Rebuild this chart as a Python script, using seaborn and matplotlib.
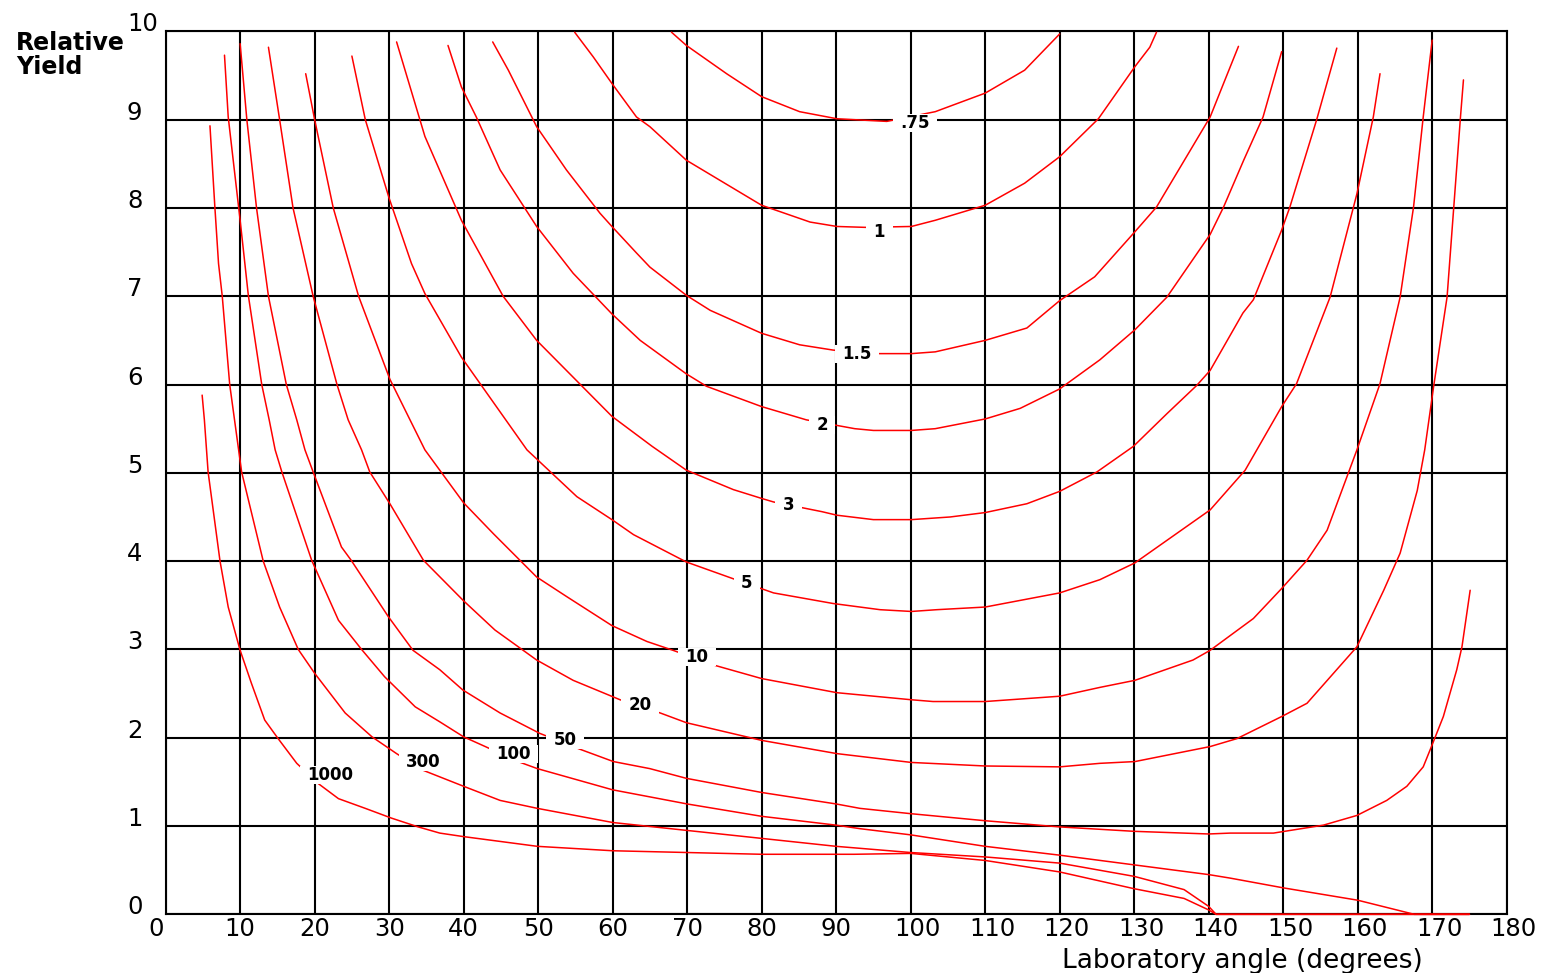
import numpy as np
import pandas as pd
import matplotlib
matplotlib.use("Agg")
import matplotlib.pyplot as plt
import seaborn as sns
from matplotlib.path import Path
from matplotlib.transforms import ScaledTranslation

# ---------------- data ----------------
X_TICKS = list(range(0, 181, 10))
Y_TICKS = list(range(0, 11))

ANGLE_075 = [67.9, 69.9, 75.3, 80, 85.1, 90.1, 96.8, 103.3, 110, 115.3, 120]
YIELD_075 = [9.99, 9.84, 9.52, 9.26, 9.09, 9.01, 8.98, 9.09, 9.30, 9.56, 9.97]

ANGLE_1 = [54.9, 57.4, 59.9, 63.2, 65, 69.9, 80, 86.5, 90.1, 93.9, 100.1, 103.3, 110,
           115.3, 120, 125.2, 130.1, 132.1, 133]
YIELD_1 = [9.99, 9.71, 9.41, 9.03, 8.92, 8.54, 8.03, 7.84, 7.79, 7.78, 7.79, 7.86, 8.03,
           8.28, 8.58, 9.01, 9.60, 9.82, 9.99]

ANGLE_15 = [43.9, 46, 49.8, 53.8, 58.3, 59.9, 63.2, 65, 69.9, 73.1, 80, 85.1, 89.6, 95.7,
            100.1, 103.3, 110, 115.6, 120, 124.7, 130.1, 133, 140.2, 142, 144]
YIELD_15 = [9.88, 9.56, 8.92, 8.43, 7.94, 7.79, 7.49, 7.33, 7.01, 6.84, 6.58, 6.45, 6.39, 6.35,
            6.35, 6.37, 6.50, 6.64, 6.95, 7.22, 7.73, 8.01, 9.03, 9.41, 9.83]

ANGLE_2 = [37.9, 39.7, 41.7, 44.9, 49.8, 54.7, 59.9, 63.7, 69.9, 72.6, 80, 86, 92.5, 95,
           100.1, 103.3, 110, 114.7, 120, 125.4, 130.1, 134.4, 140.2, 142, 144.7, 147.3, 149.8]
YIELD_2 = [9.84, 9.37, 9.03, 8.43, 7.79, 7.26, 6.80, 6.50, 6.12, 5.98, 5.75, 5.60, 5.50, 5.48,
           5.48, 5.50, 5.61, 5.73, 5.95, 6.28, 6.62, 6.99, 7.70, 8.01, 8.54, 9.03, 9.77]

ANGLE_3 = [31, 34.8, 39.7, 45.3, 49.8, 59.9, 65.3, 69.9, 76.2, 80, 81.6, 88.1, 90.1,
           95, 100.1, 105.3, 110, 115.6, 120, 125, 129.9, 134.4, 138.4, 140.2, 144.6, 146,
           149.8, 150.9, 154.5, 157.2]
YIELD_3 = [9.88, 8.81, 7.86, 7.00, 6.50, 5.64, 5.30, 5.03, 4.81, 4.71, 4.67, 4.56,
           4.52, 4.47, 4.47, 4.50, 4.55, 4.65, 4.79, 5.01, 5.30, 5.67, 5.99, 6.16, 6.81, 6.96,
           7.75, 8.01, 9.00, 9.81]

ANGLE_5 = [25, 26.8, 30, 33, 34.8, 39.7, 48.5, 55.2, 59.9, 62.8, 69.9, 76.2, 81.6, 89.6, 95.9,
           100.1, 103.5, 110, 120, 125.4, 130.1, 140.2, 144.9, 149.8, 151.8, 156.3, 159.9,
           162.1, 163]
YIELD_5 = [9.72, 9.00, 8.11, 7.37, 7.03, 6.31, 5.26, 4.73, 4.47, 4.30, 3.99, 3.80, 3.64, 3.52,
           3.45, 3.43, 3.45, 3.48, 3.64, 3.79, 3.98, 4.58, 5.03, 5.75, 6.01, 6.99, 8.16,
           9.03, 9.52]

ANGLE_10 = [18.8, 20, 22.5, 25.9, 30.1, 32.8, 34.8, 40, 44, 49.8, 53.8, 59.9, 64.6, 68.1,
            73.7, 80, 90.1, 100.1, 103, 110, 120, 125.4, 130.1, 137.9, 140.2, 146, 149.8,
            153.2, 155.9, 159.9, 163, 165.7, 167.5, 168.8, 170]
YIELD_10 = [9.52, 9.00, 8.00, 7.00, 6.06, 5.60, 5.26, 4.66, 4.31, 3.82, 3.60, 3.27, 3.09,
            2.99, 2.82, 2.67, 2.51, 2.43, 2.41, 2.41, 2.47, 2.57, 2.65, 2.88, 2.99, 3.35, 3.69,
            4.01, 4.35, 5.26, 6.01, 6.99, 8.01, 9.03, 9.90]

ANGLE_20 = [13.8, 15.3, 17.1, 19.8, 23, 24.5, 26.3, 27.4, 30.1, 34.6, 40, 44.2, 49.8, 54.7,
            61, 66.4, 69.9, 80, 90.1, 100.1, 110, 120, 125.4, 130.1, 140.2, 143.8, 149.8,
            153.2, 159.9, 163.5, 165.7, 168, 169, 170.2, 172, 172.9, 173.8, 174.2]
YIELD_20 = [9.82, 9.00, 8.00, 7.00, 6.00, 5.60, 5.26, 5.01, 4.65, 4.01, 3.55, 3.22, 2.88, 2.65,
            2.43, 2.28, 2.17, 1.97, 1.82, 1.72, 1.68, 1.67, 1.71, 1.73, 1.90, 1.99, 2.24,
            2.39, 3.03, 3.67, 4.09, 4.80, 5.26, 5.98, 6.99, 8.01, 9.03, 9.45]

ANGLE_50 = [10, 10.9, 12.2, 13.8, 16.2, 17.6, 18.7, 19.8, 23.6, 24.9, 29.9, 33.2, 36.8, 39.9,
            44.9, 50.2, 55.6, 60.1, 65, 69.9, 80, 90, 93.2, 100, 110, 120, 130, 140, 142.9,
            148.7, 155.4, 159.9, 163.9, 166.6, 168.8, 170, 171.5, 173.3, 174, 175.1]
YIELD_50 = [9.86, 9.00, 8.00, 7.00, 6.00, 5.60, 5.26, 5.01, 4.16, 4.01, 3.37, 2.99, 2.77, 2.54,
            2.28, 2.05, 1.87, 1.73, 1.65, 1.54, 1.38, 1.25, 1.20, 1.14, 1.06, 0.99, 0.94,
            0.91, 0.92, 0.92, 1.01, 1.12, 1.29, 1.45, 1.67, 1.92, 2.24, 2.77, 3.03, 3.67]

ANGLE_100 = [7.9, 8.4, 10, 11.1, 12.9, 13.9, 14.7, 15.6, 19.6, 23.2, 26.3, 29.4, 33.5, 36.8,
             40, 42.9, 47.3, 49.9, 60, 70, 80, 90, 93.2, 100, 110, 120, 130, 140, 142.9, 150,
             160, 167.6, 175]
YIELD_100 = [9.73, 9.03, 7.86, 7.01, 6.00, 5.60, 5.26, 5.01, 4.01, 3.33, 3.00, 2.69, 2.35, 2.18,
             2.01, 1.90, 1.73, 1.65, 1.41, 1.25, 1.11, 1.01, 0.97, 0.90, 0.77, 0.67, 0.56,
             0.45, 0.41, 0.30, 0.16, 0.0, 0.0]

ANGLE_300 = [5.95, 6.6, 7.1, 7.6, 8.6, 10.2, 13.1, 15.3, 17.8, 20, 24.1, 27.7, 31, 34.6,
             37.9, 40, 44.9, 49.9, 60, 70, 80, 90, 100, 110, 120, 130, 136.7, 140, 141, 175]
YIELD_300 = [8.93, 8.02, 7.37, 7.00, 6.00, 5.01, 4.00, 3.48, 3.00, 2.73, 2.28, 2.01, 1.82,
             1.63, 1.52, 1.45, 1.29, 1.20, 1.04, 0.95, 0.86, 0.77, 0.70, 0.65, 0.58, 0.43,
             0.28, 0.09, 0.0, 0.0]

ANGLE_1000 = [4.9, 5.2, 5.7, 7.3, 8.4, 10, 11.5, 13.3, 15.1, 17.6, 20.5, 23.2, 26.8, 30.3, 33.9,
              36.8, 40, 49.9, 60, 70, 80, 92.4, 100, 110, 120, 130, 136.7, 140, 141, 175]
YIELD_1000 = [5.88, 5.60, 5.01, 4.00, 3.48, 2.99, 2.62, 2.20, 1.99, 1.71, 1.48, 1.31, 1.20, 1.09,
              0.99, 0.92, 0.88, 0.77, 0.72, 0.70, 0.68, 0.68, 0.69, 0.61, 0.48, 0.29, 0.18,
              0.05, 0.0, 0.0]

CURVE_NAMES = [".75", "1", "1.5", "2", "3", "5", "10", "20", "50", "100", "300", "1000"]
CURVE_ANGLES = [ANGLE_075, ANGLE_1, ANGLE_15, ANGLE_2, ANGLE_3, ANGLE_5, ANGLE_10, ANGLE_20,
                ANGLE_50, ANGLE_100, ANGLE_300, ANGLE_1000]
CURVE_YIELDS = [YIELD_075, YIELD_1, YIELD_15, YIELD_2, YIELD_3, YIELD_5, YIELD_10, YIELD_20,
                YIELD_50, YIELD_100, YIELD_300, YIELD_1000]

# inline label anchor points (angle, yield)
LABEL_ANGLE = [100.6, 95.8, 92.8, 88.1, 83.6, 78.0, 71.3, 63.7, 53.6, 46.7, 34.6, 22.1]
LABEL_YIELD = [8.96, 7.73, 6.35, 5.54, 4.64, 3.75, 2.91, 2.37, 1.97, 1.82, 1.73, 1.58]

# ---------------- build long-form table ----------------
frames = []
for name, xs, ys in zip(CURVE_NAMES, CURVE_ANGLES, CURVE_YIELDS):
    frames.append(pd.DataFrame({"angle": xs, "yield": ys, "curve": name}))
df = pd.concat(frames, ignore_index=True)

# ---------------- plot ----------------
sns.set_style("white")
plt.rcParams["font.family"] = ["DejaVu Sans"]
plt.rcParams["text.color"] = "black"

fig = plt.figure(figsize=(15.48, 9.73), dpi=100)
ax = fig.add_axes([0.1070, 0.0603, 0.8663, 0.9075])

sns.lineplot(data=df, x="angle", y="yield", hue="curve", units="curve",
             palette={n: "#ff0000" for n in CURVE_NAMES}, estimator=None,
             sort=False, legend=False, linewidth=1.1, ax=ax)
for ln in ax.lines:
    ln.set_zorder(3)
    ln.set_clip_on(False)

ax.set_xlim(0, 180)
ax.set_ylim(0, 10)
ax.set_xticks(X_TICKS)
ax.set_yticks(Y_TICKS)
ax.set_xticklabels([str(v) for v in X_TICKS])
ax.set_yticklabels([str(v) for v in Y_TICKS])
ax.set_xlabel("")
ax.set_ylabel("")
ax.set_axisbelow(True)
ax.grid(True, color="black", linewidth=1.5)
for s in ax.spines.values():
    s.set_visible(True)
    s.set_color("black")
    s.set_linewidth(1.5)
ax.tick_params(axis="both", length=0, labelsize=17.5, colors="black")
ax.tick_params(axis="x", pad=2)
ax.tick_params(axis="y", pad=0)

shift = ScaledTranslation(-38.7 / 100, 9.5 / 100, fig.dpi_scale_trans)
for lbl in ax.get_yticklabels():
    lbl.set_horizontalalignment("left")
    lbl.set_transform(lbl.get_transform() + shift)

xlabels = ax.get_xticklabels()
xlabels[0].set_transform(xlabels[0].get_transform() +
                         ScaledTranslation(-10 / 100, 0, fig.dpi_scale_trans))
for lbl in xlabels:
    if len(lbl.get_text()) == 3:
        lbl.set_transform(lbl.get_transform() +
                          ScaledTranslation(7 / 100, 0, fig.dpi_scale_trans))


def wide_box(x0, y0, width, height, mutation_size):
    px = 0.45 * mutation_size
    verts = [(x0 - px, y0), (x0 + width + px, y0),
             (x0 + width + px, y0 + height), (x0 - px, y0 + height),
             (x0 - px, y0)]
    return Path(verts, closed=True)


for name, lx, ly in zip(CURVE_NAMES, LABEL_ANGLE, LABEL_YIELD):
    ax.text(lx, ly, name, ha="center", va="center", fontsize=12, fontweight="bold",
            color="black", zorder=6,
            bbox=dict(boxstyle=wide_box, facecolor="white", edgecolor="none"))

fig.text(16 / 1548, 1 - 31 / 973, "Relative\nYield", ha="left", va="top",
         fontsize=17, fontweight="bold", linespacing=1.0, color="black")
fig.text(1242 / 1548, 1 - 968 / 973, "Laboratory angle (degrees)", ha="center",
         va="baseline", fontsize=19, color="black")

fig.savefig("out.png", dpi=100, facecolor="white")
